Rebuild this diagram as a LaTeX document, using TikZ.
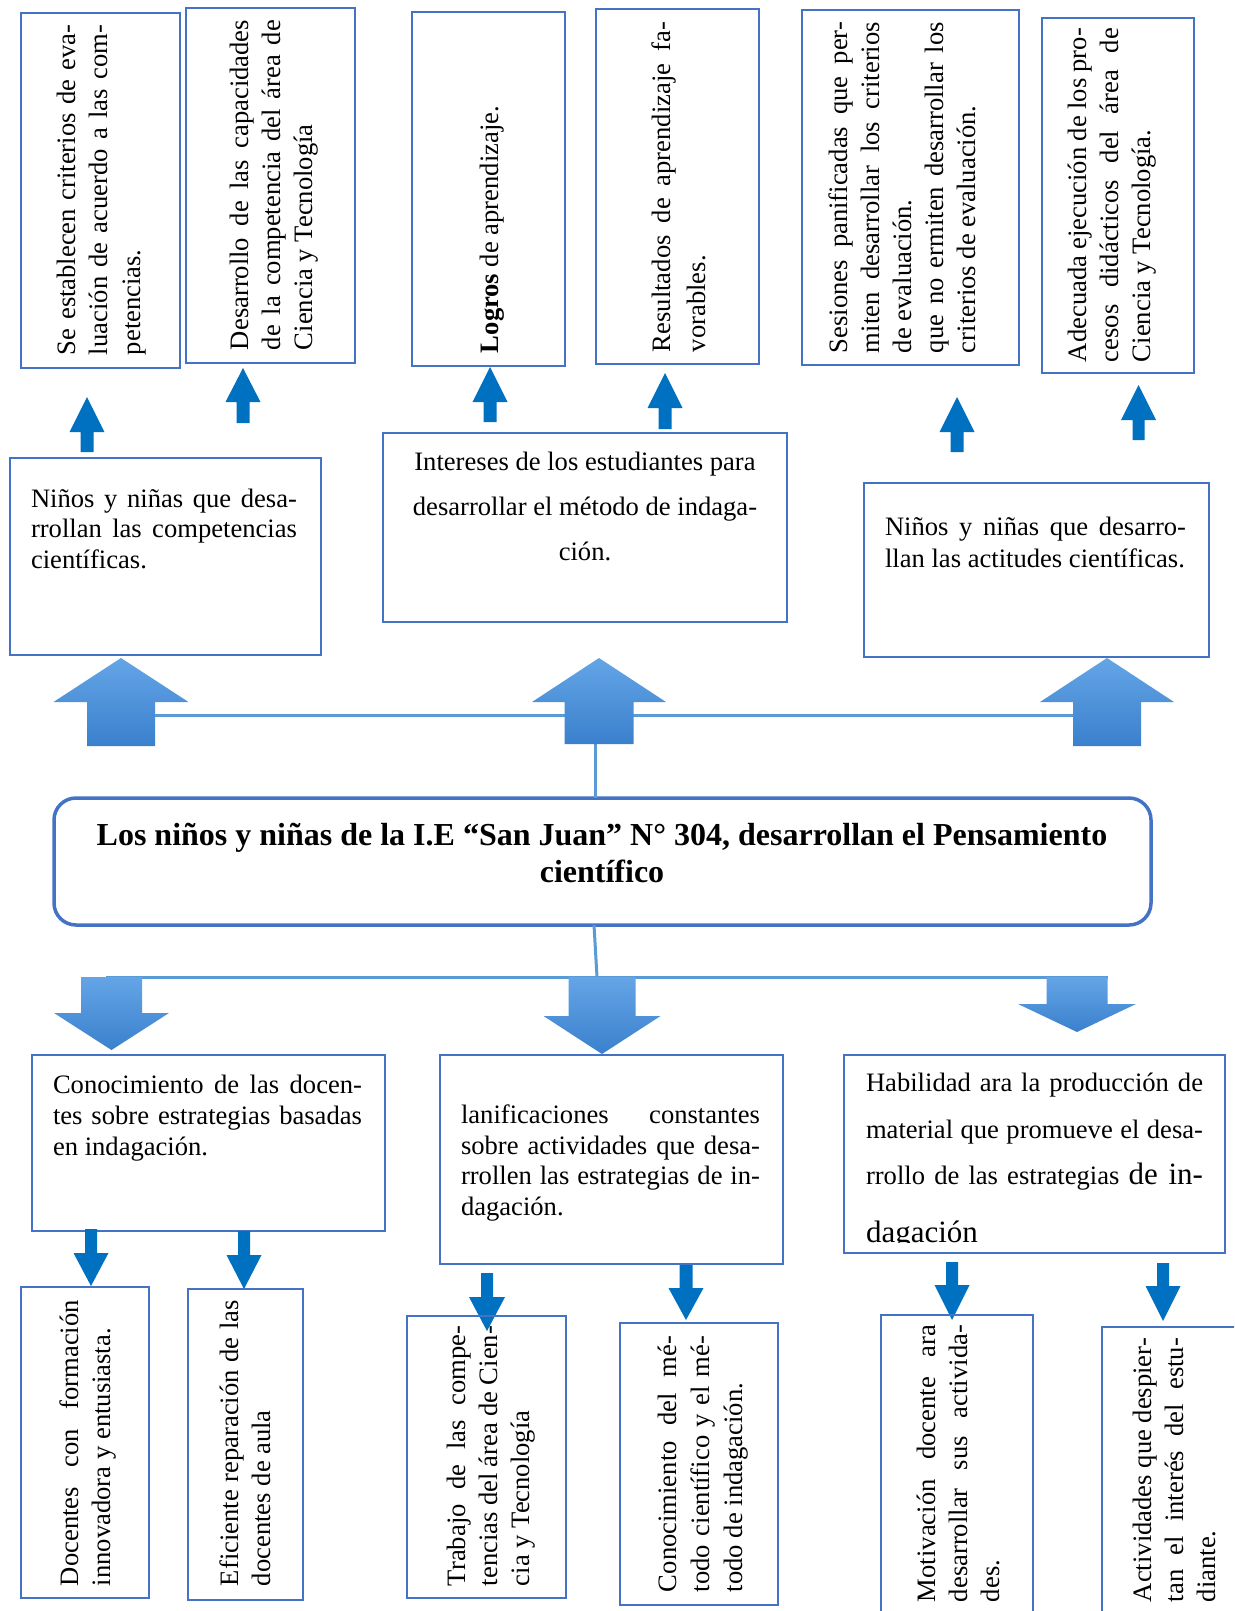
\documentclass[tikz,border=0pt]{standalone}
\usepackage{fontspec}
\setmainfont{Liberation Serif}
\definecolor{boxblue}{RGB}{68,114,196}
\definecolor{arrblue}{RGB}{0,112,192}
\definecolor{lineblue}{RGB}{91,155,213}
\definecolor{bigtop}{RGB}{100,165,230}
\definecolor{bigbot}{RGB}{58,128,205}
\newcommand{\jl}[2]{\makebox[#1pt][s]{#2}}
\newcommand{\blockarrow}[7]{\path[#7] (#1,#2) -- (#1+#5,#3) -- (#1+#6,#3) -- (#1+#6,#4) -- (#1-#6,#4) -- (#1-#6,#3) -- (#1-#5,#3) -- cycle;}
\tikzset{
  bx/.style={draw=boxblue, line width=2.4pt, inner sep=0pt, outer sep=0pt, anchor=north west},
  tx/.style={inner sep=0pt, outer sep=0pt, align=left, font=\fontsize{26.6}{32}\selectfont},
  vtx/.style={tx, rotate=90, anchor=north west},
  sarr/.style={fill=arrblue},
  barr/.style={top color=bigtop, bottom color=bigbot},
  conn/.style={draw=lineblue, line width=3pt}
}
\begin{document}
\begin{tikzpicture}[x=1pt,y=-1pt]
\useasboundingbox (0,0) rectangle (1234,1611);
\clip (0,0) rectangle (1234,1611);
\fill[white] (0,0) rectangle (1234,1611);

% ---------- top row boxes ----------
\node[bx, minimum width=159pt, minimum height=355pt] (b1) at (21,13) {};
\node[bx, minimum width=169pt, minimum height=355pt] (b2) at (186,8) {};
\node[bx, minimum width=153pt, minimum height=354pt] (b3) at (412,12) {};
\node[bx, minimum width=163pt, minimum height=355pt] (b4) at (596,9) {};
\node[bx, minimum width=217pt, minimum height=355pt] (b5) at (802,10) {};
\node[bx, minimum width=152pt, minimum height=355pt] (b6) at (1042,18) {};

\node[vtx, font=\fontsize{26.6}{32.5}\selectfont] (t1) at (57,355)
  {\jl{330}{Se establecen criterios de eva-}\\\jl{330}{luación de acuerdo a las com-}\\petencias.};
\node[vtx] (t2) at (230,350)
  {\jl{330}{Desarrollo de las capacidades}\\\jl{330}{de la competencia del área de}\\Ciencia y Tecnología};
\node[vtx] (t3) at (480,353) {\textbf{Logros} de aprendizaje.};
\node[vtx, font=\fontsize{26.6}{35}\selectfont] (t4) at (652,352)
  {\jl{330}{Resultados de aprendizaje fa-}\\vorables.};
\node[vtx] (t5) at (829,353)
  {\jl{331}{Sesiones panificadas que per-}\\\jl{331}{miten desarrollar los criterios}\\de evaluación.\\\jl{331}{que no ermiten desarrollar los}\\criterios de evaluación.};
\node[vtx] (t6) at (1068,362)
  {\jl{334}{Adecuada ejecución de los pro-}\\\jl{334}{cesos didácticos del área de}\\Ciencia y Tecnología.};

% ---------- small up arrows ----------
\blockarrow{87}{397}{432}{452}{17.5}{6.5}{sarr}
\blockarrow{243}{368}{402}{423}{17.5}{6.5}{sarr}
\blockarrow{490}{367}{402}{422}{17.5}{6.5}{sarr}
\blockarrow{665}{373}{408}{429}{17.5}{6.5}{sarr}
\blockarrow{957}{397}{432}{452}{17.5}{6.5}{sarr}
\blockarrow{1138.5}{385}{420}{440}{17.5}{6}{sarr}

% ---------- middle row boxes ----------
\node[bx, minimum width=311pt, minimum height=197pt] (m1) at (10,458) {};
\node[bx, minimum width=404pt, minimum height=189pt] (m2) at (383,433) {};
\node[bx, minimum width=345pt, minimum height=174pt] (m3) at (864,483) {};

\node[tx, anchor=north west, font=\fontsize{26.6}{30.5}\selectfont] (tm1) at (31,489)
  {\jl{266}{Niños y niñas que desa-}\\\jl{266}{rrollan las competencias}\\científicas.};
\node[tx, anchor=north, align=center, font=\fontsize{26.6}{45}\selectfont] (tm2) at (585,452)
  {Intereses de los estudiantes para\\desarrollar el método de indaga-\\ción.};
\node[tx, anchor=north west] (tm3) at (885,517)
  {\jl{301}{Niños y niñas que desarro-}\\llan las actitudes científicas.};

% ---------- title ----------
\node[draw=boxblue, line width=3.5pt, rounded corners=22pt, inner sep=0pt, outer sep=0pt,
      minimum width=1097pt, minimum height=127pt, anchor=north west] (title) at (54,798) {};
\node[inner sep=0pt, outer sep=0pt, anchor=north, align=center,
      font=\fontsize{32}{37}\selectfont\bfseries] (ttl) at (602,823)
  {Los niños y niñas de la I.E “San Juan” N° 304, desarrollan el Pensamiento\\científico};

% ---------- connectors (behind big arrows) ----------
\coordinate (lu1) at (121,715);
\coordinate (lu3) at (1107,715);
\coordinate (u2b) at (595,744);
\coordinate (ts) at (594,925);
\coordinate (hl) at (597,977);
\coordinate (ld1) at (106,977);
\coordinate (ld3) at (1108,977);
\draw[conn] (lu1) -- (lu3);
\draw[conn] (u2b) -- (u2b |- title.north);
\draw[conn] (ts) -- (hl);
\draw[conn] (ld1) -- (ld3);

% ---------- big arrows ----------
\blockarrow{121}{658}{702}{746}{67.5}{34}{barr}
\blockarrow{599}{658}{702}{744}{67}{34.5}{barr}
\blockarrow{1107}{658}{702}{746}{67}{34}{barr}
\blockarrow{111.5}{1050}{1013}{977}{57.5}{30.5}{barr}
\blockarrow{602}{1054}{1016}{977}{58.5}{33.5}{barr}
\blockarrow{1077}{1032}{1004}{977}{59}{30.5}{barr}

% ---------- lower row boxes ----------
\node[bx, minimum width=353pt, minimum height=176pt] (c1) at (32,1055) {};
\node[bx, minimum width=343pt, minimum height=209pt] (c2) at (440,1055) {};
\node[bx, minimum width=381pt, minimum height=198pt] (c3) at (844,1055) {};

\node[tx, anchor=north west, font=\fontsize{26.6}{31}\selectfont] (tc1) at (53,1075)
  {\jl{309}{Conocimiento de las docen-}\\\jl{309}{tes sobre estrategias basadas}\\en indagación.};
\node[tx, anchor=north west, font=\fontsize{26.6}{30.5}\selectfont] (tc2) at (461,1105)
  {\jl{299}{lanificaciones constantes}\\\jl{299}{sobre actividades que desa-}\\\jl{299}{rrollen las estrategias de in-}\\dagación.};
\begin{scope}
\clip (846,1057) rectangle (1223,1242);
\node[tx, anchor=north west, font=\fontsize{26.6}{46.5}\selectfont] (tc3) at (866,1073)
  {\jl{337}{Habilidad ara la producción de}\\\jl{337}{material que promueve el desa-}\\\jl{337}{rrollo de las estrategias {\fontsize{31}{46.5}\selectfont de in-}}\\[11.5pt]{\fontsize{31}{46.5}\selectfont dagación}};
\end{scope}

% ---------- small down arrows ----------
\blockarrow{91}{1286}{1253}{1229}{17.5}{6}{sarr}
\blockarrow{244}{1289}{1255}{1231}{17.5}{6}{sarr}
\blockarrow{487}{1331}{1297}{1273}{18}{6}{sarr}
\blockarrow{686}{1320}{1288}{1265}{17.5}{6.5}{sarr}
\blockarrow{952}{1320}{1285}{1262}{17.5}{6}{sarr}
\blockarrow{1163}{1321}{1286}{1263}{17.5}{6}{sarr}

% ---------- bottom row boxes ----------
\node[bx, minimum width=128pt, minimum height=311pt] (d1) at (21,1287) {};
\node[bx, minimum width=115pt, minimum height=311pt] (d2) at (188,1289) {};
\node[bx, minimum width=159pt, minimum height=282pt] (d3) at (407,1316) {};
\node[bx, minimum width=158pt, minimum height=282pt] (d4) at (620,1323) {};
\node[bx, minimum width=152pt, minimum height=310pt] (d5) at (881,1315) {};
\node[bx, minimum width=148pt, minimum height=298pt] (d6) at (1102,1327) {};

\node[vtx] (td1) at (60,1586)
  {\jl{286}{Docentes con formación}\\innovadora y entusiasta.};
\node[vtx] (td2) at (220,1586)
  {\jl{286}{Eficiente reparación de las}\\docentes de aula};
\node[vtx] (td3) at (447,1586)
  {\jl{260}{Trabajo de las compe-}\\\jl{260}{tencias del área de Cien-}\\cia y Tecnología};
\node[vtx, font=\fontsize{26.6}{33}\selectfont] (td4) at (658,1592)
  {\jl{256}{Conocimiento del mé-}\\\jl{256}{todo científico y el mé-}\\todo de indagación.};
\node[vtx] (td5) at (917,1602)
  {\jl{277}{Motivación docente ara}\\\jl{277}{desarrollar sus activida-}\\des.};
\node[vtx] (td6) at (1133,1602)
  {\jl{264}{Actividades que despier-}\\\jl{264}{tan el interés del estu-}\\diante.};
\end{tikzpicture}
\end{document}
